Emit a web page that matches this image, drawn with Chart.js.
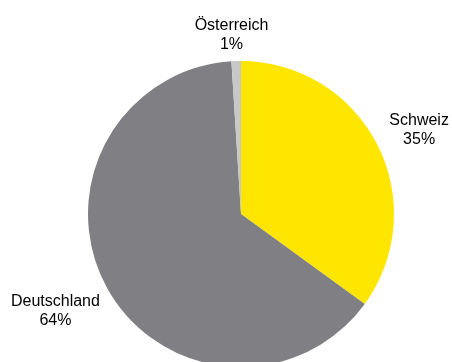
<!DOCTYPE html>
<html>
<head>
<meta charset="utf-8">
<script src="https://cdn.jsdelivr.net/npm/chart.js@4/dist/chart.umd.min.js"></script>
<style>
  html, body { margin: 0; padding: 0; background: #fff; overflow: hidden; }
  #pieChart { display: block; }
</style>
</head>
<body>
<canvas id="pieChart" width="452" height="362"></canvas>
<script>
  const countries = ["Schweiz", "Deutschland", "Österreich"];
  const shares = [35, 64, 1];
  const sliceColors = ["#FFE600", "#807F83", "#C8C8C8"];

  // Draws "name / value%" outside each slice, along its middle angle
  const outsideLabels = {
    id: "outsideLabels",
    afterDatasetsDraw(chart, args, opts) {
      const ctx = chart.ctx;
      const meta = chart.getDatasetMeta(0);
      const lineH = opts.lineHeight;
      ctx.save();
      ctx.font = opts.font;
      ctx.fillStyle = opts.color;
      ctx.textAlign = "center";
      ctx.textBaseline = "alphabetic";
      meta.data.forEach((arc, i) => {
        const lines = [chart.data.labels[i], chart.data.datasets[0].data[i] + "%"];
        const w = Math.max(...lines.map(t => ctx.measureText(t).width));
        const h = lineH * lines.length;
        const mid = (arc.startAngle + arc.endAngle) / 2;
        const dist = arc.outerRadius + opts.gap;
        const nudge = opts.nudge[i] || [0, 0];
        const cx = arc.x + Math.cos(mid) * dist + Math.cos(mid) * w / 2 + nudge[0];
        const cy = arc.y + Math.sin(mid) * dist + Math.sin(mid) * h / 2 + nudge[1];
        const top = cy - h / 2;
        lines.forEach((t, k) => {
          ctx.fillText(t, cx, top + lineH * (k + 1) - 5);
        });
      });
      ctx.restore();
    }
  };

  new Chart(document.getElementById("pieChart").getContext("2d"), {
    type: "pie",
    data: {
      labels: countries,
      datasets: [{
        data: shares,
        backgroundColor: sliceColors,
        borderWidth: 0,
        radius: 153
      }]
    },
    options: {
      responsive: false,
      animation: false,
      layout: { padding: { left: 30, right: 0, top: 66, bottom: 0 } },
      plugins: {
        legend: { display: false },
        tooltip: { enabled: false },
        outsideLabels: {
          font: "16px 'Liberation Sans', Arial, sans-serif",
          color: "#000",
          lineHeight: 19,
          gap: 16,
          nudge: [[1, 1], [1.5, 6], [-3, 9]]
        }
      }
    },
    plugins: [outsideLabels]
  });
</script>
</body>
</html>
